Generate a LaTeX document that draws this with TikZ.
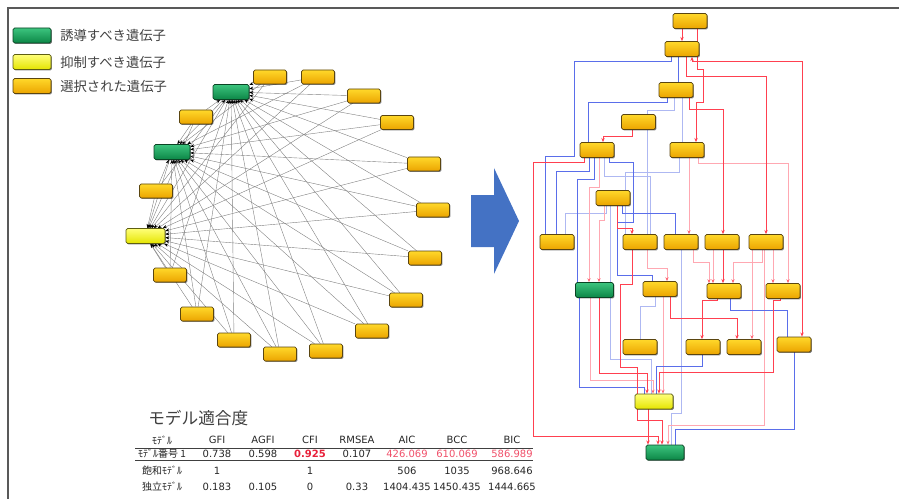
\documentclass[tikz,border=0pt]{standalone}
\usepackage{fontspec}
\setmainfont{DejaVu Sans}
\newfontfamily\jp{Noto Sans CJK JP}
\usetikzlibrary{shadows,arrows.meta}
\pgfdeclarelayer{bg}
\pgfsetlayers{bg,main}
\definecolor{orgT}{HTML}{FFD82A}
\definecolor{orgB}{HTML}{EBA400}
\definecolor{orgD}{HTML}{5A4510}
\definecolor{grnT}{HTML}{3CC47E}
\definecolor{grnB}{HTML}{0C8646}
\definecolor{grnD}{HTML}{0A4424}
\definecolor{yelT}{HTML}{FFFF78}
\definecolor{yelB}{HTML}{E4E400}
\definecolor{yelD}{HTML}{5E5E12}
\definecolor{eRed}{HTML}{FF4050}
\definecolor{ePink}{HTML}{FFA8B2}
\definecolor{eBlue}{HTML}{5A6EEA}
\definecolor{eLBlue}{HTML}{AEB8F2}
\definecolor{bigArrow}{HTML}{4472C4}
\definecolor{txtGray}{HTML}{404040}
\definecolor{numRed}{HTML}{E8203A}
\definecolor{numPink}{HTML}{F0506A}
\tikzset{
  nb/.style={rectangle, rounded corners=1.2pt, inner sep=0pt, line width=0.5pt,
    drop shadow={shadow xshift=0.7pt, shadow yshift=-0.7pt, opacity=0.5, fill=black}},
  orgS/.style={nb, draw=orgD, top color=orgT, bottom color=orgB},
  grnS/.style={nb, draw=grnD, top color=grnT, bottom color=grnB},
  yelS/.style={nb, draw=yelD, top color=yelT, bottom color=yelB},
  lorg/.style={orgS, minimum width=24.75pt, minimum height=10.5pt},
  lgrn/.style={grnS, minimum width=27pt, minimum height=11.25pt},
  lyel/.style={yelS, minimum width=29.25pt, minimum height=11.25pt},
  rorg/.style={orgS, minimum width=25.5pt, minimum height=11.25pt},
  rgrn/.style={grnS, minimum width=28.5pt, minimum height=11.25pt},
  ryel/.style={yelS, minimum width=28.5pt, minimum height=11.25pt},
  legbox/.style={minimum width=28.5pt, minimum height=11.25pt},
  lE/.style={draw=black!50, line width=0.3pt, -{Stealth[length=3pt,width=2.4pt,black]}},
  rE/.style={draw=eRed, line width=0.75pt, -{Stealth[length=3.2pt,width=2.6pt]}},
  pE/.style={draw=ePink, line width=0.55pt, -{Stealth[length=3pt,width=2.4pt,eRed!80]}},
  bE/.style={draw=eBlue, line width=0.75pt},
  lbE/.style={draw=eLBlue, line width=0.55pt},
  legtxt/.style={anchor=west, font=\jp\fontsize{10}{12}\selectfont, text=txtGray, inner sep=0pt},
  tnum/.style={font=\fontsize{7.5}{9}\selectfont, text=black!85, inner sep=0pt},
  tjp/.style={font=\jp\fontsize{7.5}{9}\selectfont, text=black!85, inner sep=0pt}
}
\begin{document}
\begin{tikzpicture}[x=0.75pt,y=-0.75pt]
\useasboundingbox (0,0) rectangle (899,499);
% frame
\draw[line width=0.9pt, black!65] (8,499) -- (8,8) -- (899,8);

% legend
\node[grnS, legbox] (legG) at (32,35.5) {};
\node[yelS, legbox] (legY) at (32,62) {};
\node[orgS, legbox] (legO) at (32,86) {};
\node[legtxt] (legGt) at (60,35.5) {誘導すべき遺伝子};
\node[legtxt] (legYt) at (60,62) {抑制すべき遺伝子};
\node[legtxt] (legOt) at (60,86) {選択された遺伝子};

% left circular network
\node[lgrn] (G1) at (231,92) {};
\node[lgrn] (G2) at (172,152) {};
\node[lyel] (Y) at (145.5,236) {};
\node[lorg] (L1) at (270,77) {};
\node[lorg] (L2) at (318,77) {};
\node[lorg] (L3) at (364,96) {};
\node[lorg] (L4) at (397,122.5) {};
\node[lorg] (L5) at (424,164) {};
\node[lorg] (L6) at (433,210) {};
\node[lorg] (L7) at (425,258) {};
\node[lorg] (L8) at (406,300) {};
\node[lorg] (L9) at (372,331) {};
\node[lorg] (L10) at (326,351) {};
\node[lorg] (L11) at (280,354) {};
\node[lorg] (L12) at (234,340) {};
\node[lorg] (L13) at (197,314) {};
\node[lorg] (L14) at (170,275) {};
\node[lorg] (L15) at (156,191) {};
\node[lorg] (L16) at (196,117) {};
\begin{pgfonlayer}{bg}
\foreach \i in {1,...,16} {
  \draw[lE] (L\i) -- (G1);
  \draw[lE] (L\i) -- (G2);
  \draw[lE] (L\i) -- (Y);
}
\draw[lE] (G1) -- (G2);
\draw[lE] (G1) -- (Y);
\draw[lE] (G2) -- (Y);
\end{pgfonlayer}

% big arrow
\fill[bigArrow] (471,195) -- (494,195) -- (494,168) -- (519,221) -- (494,274) -- (494,247) -- (471,247) -- cycle;

% right hierarchical network
\node[rorg] (R1) at (690,21) {};
\node[rorg] (R2) at (682,49) {};
\node[rorg] (R3) at (676,90) {};
\node[rorg] (R4) at (638.5,122) {};
\node[rorg] (R5) at (597,150) {};
\node[rorg] (R6) at (687,150) {};
\node[rorg] (R7) at (613,198) {};
\node[rorg] (R8) at (557,242) {};
\node[rorg] (R9) at (640,242) {};
\node[rorg] (R10) at (681,242) {};
\node[rorg] (R11) at (722,242) {};
\node[rorg] (R12) at (766,242) {};
\node[rgrn] (R13) at (594.5,290) {};
\node[rorg] (R14) at (660,289) {};
\node[rorg] (R15) at (724,291) {};
\node[rorg] (R16) at (783,291) {};
\node[rorg] (R17) at (640,347) {};
\node[rorg] (R18) at (703,347) {};
\node[rorg] (R19) at (744,347) {};
\node[rorg] (R20) at (794,344.5) {};
\node[ryel] (R21) at (654,401.5) {};
\node[rgrn] (R22) at (665,452.5) {};

\begin{pgfonlayer}{bg}
% light edges first
\draw[lbE] (674,0 |- R3.south) -- (674,110) -- (647,110) -- (647,0 |- R9.north);
\draw[lbE] (682,0 |- R3.south) -- (682,0 |- R6.north);
\draw[lbE] (606,0 |- R7.south) -- (606,213) -- (565,213) -- (565,0 |- R8.north);
\draw[lbE] (610,0 |- R7.south) -- (610,359) -- (651,359) -- (651,0 |- R21.north);
\draw[lbE] (681,0 |- R10.south) -- (681,413) -- (671,413) -- (671,0 |- R22.north);
\draw[lbE] (655,0 |- R14.south) -- (655,306) -- (640,306) -- (640,0 |- R17.north);
\draw[lbE] (679,0 |- R6.south) -- (679,172) -- (625,172) -- (625,0 |- R9.north);
\draw[lbE] (604,0 |- R5.south) -- (604,176) -- (650,176) -- (650,0 |- R9.north);
\draw[pE] (599,0 |- R5.south) -- (599,187) -- (589,187) -- (589,0 |- R13.north);
\draw[pE] (604,0 |- R7.south) -- (604,220) -- (599,220) -- (599,0 |- R13.north);
\draw[pE] (689,0 |- R6.south) -- (689,0 |- R10.north);
\draw[pE] (698,0 |- R6.south) -- (698,163) -- (788,163) -- (788,0 |- R16.north);
\draw[pE] (647,0 |- R9.south) -- (647,268) -- (667,268) -- (667,0 |- R14.north);
\draw[pE] (713,0 |- R11.south) -- (713,0 |- R15.north);
\draw[pE] (762,0 |- R12.south) -- (762,262) -- (733,262) -- (733,0 |- R15.north);
\draw[pE] (773,0 |- R12.south) -- (773,0 |- R16.north);
\draw[pE] (752,0 |- R12.south) -- (752,0 |- R19.north);
\draw[pE] (590,0 |- R13.south) -- (590,380) -- (653,380) -- (653,0 |- R21.north);
\draw[pE] (663,0 |- R14.south) -- (663,0 |- R21.north);
\draw[pE] (764,0 |- R12.south) -- (764,425) -- (668,425) -- (668,0 |- R22.north);
\draw[pE] (693,0 |- R10.south) -- (693,262) -- (709,262) -- (709,0 |- R15.north);
% strong edges
\draw[bE] (671,0 |- R2.south) -- (671,62) -- (574,62) -- (574,157) -- (545,157) -- (545,0 |- R8.north);
\draw[bE] (678,0 |- R2.south) -- (678,0 |- R3.north);
\draw[bE] (667,0 |- R3.south) -- (667,103) -- (588,103) -- (588,0 |- R5.north);
\draw[bE] (589,0 |- R5.south) -- (589,172) -- (556,172) -- (556,0 |- R8.north);
\draw[bE] (594,0 |- R5.south) -- (594,180) -- (577,180) -- (577,0 |- R13.north);
\draw[bE] (609,0 |- R5.south) -- (609,163) -- (633,163) -- (633,222) -- (617,222) -- (617,275) -- (652,275) -- (652,0 |- R14.north);
\draw[bE] (622,0 |- R7.south) -- (622,213) -- (675,213) -- (675,0 |- R10.north);
\draw[bE] (579,0 |- R13.south) -- (579,387) -- (644,387) -- (644,0 |- R21.north);
\draw[bE] (730,0 |- R15.south) -- (730,310) -- (787,310) -- (787,0 |- R20.north);
\draw[bE] (702,0 |- R18.south) -- (702,366) -- (656,366) -- (656,0 |- R21.north);
\draw[bE] (794,0 |- R20.south) -- (794,429) -- (675,429) -- (675,0 |- R22.north);
\draw[rE] (682,0 |- R1.south) -- (682,0 |- R2.north);
\draw[rE] (697,0 |- R1.south) -- (697,70) -- (703,70) -- (703,103) -- (696,103) -- (696,0 |- R6.north);
\draw[rE] (686,0 |- R2.south) -- (686,77) -- (766,77) -- (766,0 |- R12.north);
\draw[rE, {Stealth[length=3.2pt,width=2.6pt]}-{Stealth[length=3.2pt,width=2.6pt]}] (692,0 |- R2.south) -- (692,62) -- (802,62) -- (802,0 |- R20.north);
\draw[rE] (689,0 |- R3.south) -- (689,110) -- (723,110) -- (723,0 |- R11.north);
\draw[rE] (632,0 |- R4.south) -- (632,137) -- (603,137) -- (603,0 |- R5.north);
\draw[rE] (584,0 |- R5.south) -- (584,163) -- (533,163) -- (533,436) -- (658,436) -- (658,0 |- R22.north);
\draw[rE] (617,0 |- R7.south) -- (617,228) -- (632,228) -- (632,0 |- R9.north);
\draw[rE] (632,0 |- R9.south) -- (632,284) -- (620,284) -- (620,367) -- (637,367) -- (637,420) -- (662,420) -- (662,0 |- R22.north);
\draw[rE] (723,0 |- R11.south) -- (723,0 |- R15.north);
\draw[rE] (599,0 |- R13.south) -- (599,373) -- (647,373) -- (647,0 |- R21.north);
\draw[rE] (670,0 |- R14.south) -- (670,318) -- (737,318) -- (737,0 |- R19.north);
\draw[rE] (717,0 |- R15.south) -- (717,300) -- (702,300) -- (702,0 |- R18.north);
\draw[rE] (780,0 |- R16.south) -- (780,300) -- (773,300) -- (773,372) -- (659,372) -- (659,0 |- R21.north);
\draw[rE] (648,0 |- R21.south) -- (648,0 |- R22.north);
\end{pgfonlayer}

% fit table
\node[anchor=west, font=\jp\fontsize{12.5}{14}\selectfont, text=txtGray, inner sep=0pt] (ttl) at (148,418) {モデル適合度};
\draw[black!75, line width=0.5pt] (135,448) -- (533,448);
\draw[black!75, line width=0.5pt] (135,460) -- (533,460);
% header
\node[tjp] (h0) at (162,440) {ﾓﾃﾞﾙ};
\node[tnum] (h1) at (217,440) {GFI};
\node[tnum] (h2) at (263,440) {AGFI};
\node[tnum] (h3) at (310,440) {CFI};
\node[tnum] (h4) at (357,440) {RMSEA};
\node[tnum] (h5) at (407,440) {AIC};
\node[tnum] (h6) at (457,440) {BCC};
\node[tnum] (h7) at (512,440) {BIC};
% row 1
\node[tjp] (a0) at (162,454) {ﾓﾃﾞﾙ番号 1};
\node[tnum] (a1) at (217,454) {0.738};
\node[tnum] (a2) at (263,454) {0.598};
\node[tnum, text=numRed, font=\bfseries\fontsize{7.5}{9}\selectfont] (a3) at (310,454) {0.925};
\node[tnum] (a4) at (357,454) {0.107};
\node[tnum, text=numPink] (a5) at (407,454) {426.069};
\node[tnum, text=numPink] (a6) at (457,454) {610.069};
\node[tnum, text=numPink] (a7) at (512,454) {586.989};
% row 2
\node[tjp] (b0) at (162,471) {飽和ﾓﾃﾞﾙ};
\node[tnum] (b1) at (217,471) {1};
\node[tnum] (b3) at (310,471) {1};
\node[tnum] (b5) at (407,471) {506};
\node[tnum] (b6) at (457,471) {1035};
\node[tnum] (b7) at (512,471) {968.646};
% row 3
\node[tjp] (c0) at (162,487) {独立ﾓﾃﾞﾙ};
\node[tnum] (c1) at (217,487) {0.183};
\node[tnum] (c2) at (263,487) {0.105};
\node[tnum] (c3) at (310,487) {0};
\node[tnum] (c4) at (357,487) {0.33};
\node[tnum] (c5) at (407,487) {1404.435};
\node[tnum] (c6) at (457,487) {1450.435};
\node[tnum] (c7) at (512,487) {1444.665};
\end{tikzpicture}
\end{document}
